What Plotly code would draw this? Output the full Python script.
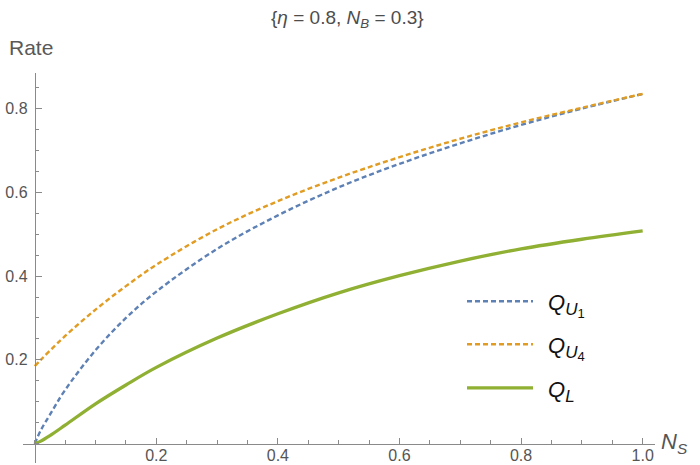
import plotly.graph_objects as go

# ---- data ----
ns = [0, 0.01, 0.025, 0.05, 0.1, 0.15, 0.2, 0.3, 0.4, 0.5, 0.6, 0.7, 0.8, 0.9, 1.0]
q_u1 = [0, 0.032, 0.069, 0.128, 0.223, 0.300, 0.363, 0.465, 0.545, 0.612, 0.668, 0.717, 0.761, 0.800, 0.835]
q_u4 = [0.185, 0.200, 0.222, 0.257, 0.320, 0.376, 0.427, 0.512, 0.579, 0.635, 0.684, 0.728, 0.767, 0.802, 0.835]
q_l = [0, 0.006, 0.019, 0.044, 0.095, 0.140, 0.182, 0.252, 0.310, 0.360, 0.401, 0.436, 0.465, 0.488, 0.508]

x_ticks = [0.2, 0.4, 0.6, 0.8, 1.0]
x_ticktext = ["0.2", "0.4", "0.6", "0.8", "1.0"]
y_ticks = [0.2, 0.4, 0.6, 0.8]
y_ticktext = ["0.2", "0.4", "0.6", "0.8"]

names = ["<i>Q</i><sub><span style='font-size:17px'><i>U</i></span><sub><span style='font-size:13px'>1</span></sub></sub>",
         "<i>Q</i><sub><span style='font-size:17px'><i>U</i></span><sub><span style='font-size:13px'>4</span></sub></sub>",
         "<i>Q</i><sub><span style='font-size:17px'><i>L</i></span></sub>"]
colors = ["#5E81B5", "#E19C24", "#8FB032"]
dashes = ["5px,3px", "5px,3px", "solid"]
widths = [2.4, 2.4, 3.3]

# ---- geometry ----
W, H = 700, 465
L, R, T, B = 23, 655, 72.7, 462.7
x_range = [-0.0193, 1.0203]
y_range = [-0.0463, 0.885]


def xp(px):
    return (px - L) / (R - L)


def yp(py):
    return (B - py) / (B - T)


fig = go.Figure()
for y, c, d, w, n in zip([q_u1, q_u4, q_l], colors, dashes, widths, names):
    fig.add_trace(go.Scatter(x=ns, y=y, mode="lines", name=n,
                             line=dict(color=c, dash=d, width=w, shape="spline", smoothing=1.0),
                             showlegend=False, hoverinfo="skip"))

axis_col = "#8a8a8a"
tick_font = dict(family="Liberation Sans, Arial, sans-serif", size=16, color="#555555")

fig.update_layout(
    width=W, height=H,
    margin=dict(l=L, r=W - R, t=T, b=H - B),
    plot_bgcolor="white", paper_bgcolor="white",
    xaxis=dict(range=x_range, showgrid=False, zeroline=False, showline=True,
               linecolor=axis_col, linewidth=1, anchor="free",
               position=(0 - y_range[0]) / (y_range[1] - y_range[0]),
               tickmode="array", tickvals=x_ticks, ticktext=x_ticktext,
               ticks="inside", ticklen=6, tickcolor=axis_col, tickwidth=1,
               minor=dict(tick0=0, dtick=0.05, ticks="inside", ticklen=3.5,
                          tickcolor=axis_col, showgrid=False),
               tickfont=tick_font, automargin=False, ticklabelstandoff=-3),
    yaxis=dict(range=y_range, showgrid=False, zeroline=False, showline=True,
               linecolor=axis_col, linewidth=1, anchor="free",
               position=(0 - x_range[0]) / (x_range[1] - x_range[0]),
               tickmode="array", tickvals=y_ticks, ticktext=y_ticktext,
               ticks="inside", ticklen=6, tickcolor=axis_col, tickwidth=1,
               minor=dict(tick0=0, dtick=0.05, ticks="inside", ticklen=3.5,
                          tickcolor=axis_col, showgrid=False),
               tickfont=tick_font, automargin=False, ticklabelstandoff=4),
    showlegend=False,
)

ann = []
ann.append(dict(text="{<i>η</i> = 0.8, <i>N</i><sub><i>B</i></sub> = 0.3}",
                x=xp(347), y=yp(19), xref="paper", yref="paper",
                showarrow=False, xanchor="center", yanchor="middle",
                font=dict(family="Liberation Sans, Arial, sans-serif", size=19, color="#4d4d4d")))
ann.append(dict(text="Rate", x=xp(7), y=yp(47), xref="paper", yref="paper",
                showarrow=False, xanchor="left", yanchor="middle",
                font=dict(family="Liberation Sans, Arial, sans-serif", size=21, color="#595959")))
ann.append(dict(text="<i>N</i><sub><i>S</i></sub>", x=xp(659), y=yp(443), xref="paper", yref="paper",
                showarrow=False, xanchor="left", yanchor="middle",
                font=dict(family="Liberation Sans, Arial, sans-serif", size=22, color="#555555")))

shapes = []
rows = [301, 344, 387.5]
for rowy, c, d, w, n in zip(rows, colors, dashes, widths, names):
    shapes.append(dict(type="line", xref="paper", yref="paper",
                       x0=xp(467), x1=xp(533), y0=yp(rowy), y1=yp(rowy),
                       line=dict(color=c, dash=d, width=w)))
    ann.append(dict(text=n, x=xp(546), y=yp(rowy + 4), xref="paper", yref="paper",
                    showarrow=False, xanchor="left", yanchor="middle",
                    font=dict(family="Liberation Sans, Arial, sans-serif", size=22, color="#111111")))

fig.update_layout(annotations=ann, shapes=shapes)
fig.write_html("out.html", config={"displayModeBar": False},
               post_script="document.body.style.margin='0';")
